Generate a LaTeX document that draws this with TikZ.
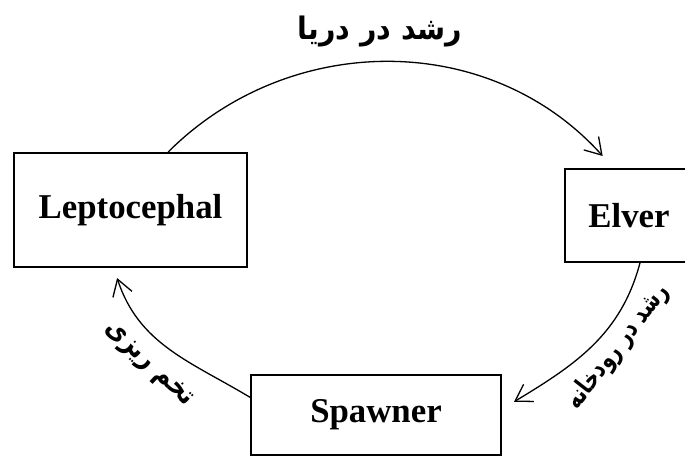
\documentclass[tikz,border=0pt]{standalone}
\usepackage{fontspec}
\usepackage{tikz}
\usetikzlibrary{arrows.meta,positioning}
\setmainfont{Liberation Serif}
\newfontfamily\arabicfont[Script=Arabic]{DejaVu Sans}
\TeXXeTstate=1

\begin{document}
\begin{tikzpicture}[x=0.5pt,y=0.5pt]
    \tikzstyle{stage}=[draw=black,line width=1pt,fill=white,inner sep=0pt,font=\fontsize{17.4}{20}\selectfont\bfseries]
    \tikzstyle{cycle}=[-{Straight Barb[length=8pt,width=10pt]},line width=0.65pt,black]
    \tikzstyle{note}=[inner sep=1pt,font=\arabicfont\bfseries]
    \clip (0,0) rectangle (685,457);
    \node[stage,minimum width=116.5pt,minimum height=57pt] (lepto) at (130.5,247) {Leptocephal};
    \node[stage,minimum width=64pt,minimum height=46.5pt] (elver) at (629,241.5) {Elver};
    \node[stage,minimum width=125pt,minimum height=40pt] (spawner) at (376,42) {Spawner};
    \node[note,font=\fontsize{15.5}{18}\arabicfont\bfseries,xscale=0.92] (sea) at (380,425) {\beginR رشد در دریا\endR};
    \node[note,font=\fontsize{13}{15}\arabicfont\bfseries,rotate=52,xscale=0.75] (river) at (618,110) {\beginR رشد در رودخانه\endR};
    \node[note,font=\fontsize{14}{16}\arabicfont\bfseries,rotate=-43,xscale=0.85] (spawn) at (148,92) {\beginR تخم ریزی\endR};
    \draw[cycle] (lepto.57) to[out=45,in=132] ([yshift=6]elver.119);
    \draw[cycle] (elver.-77) to[out=-105,in=31] ([xshift=6]spawner.6);
    \draw[cycle] (spawner.172) to[out=149,in=288] ([yshift=-5]lepto.-103);
\end{tikzpicture}
\end{document}
